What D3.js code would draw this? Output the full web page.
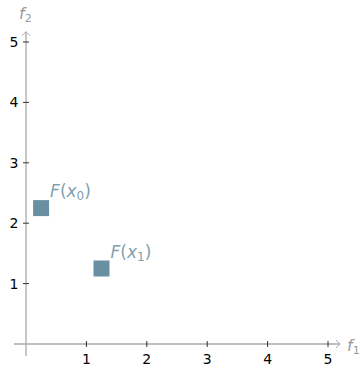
<!DOCTYPE html>
<html>
<head>
<meta charset="utf-8">
<script src="https://cdn.jsdelivr.net/npm/d3@7"></script>
<style>
  body { margin: 0; background: #fff; }
  svg text { font-family: "DejaVu Sans", sans-serif; }
</style>
</head>
<body>
<div id="chart"></div>
<script>
// 数据
const pointNames = ["x0", "x1"];
const f1Values = [0.25, 1.25];
const f2Values = [2.25, 1.25];
const xTicks = [1, 2, 3, 4, 5];
const yTicks = [1, 2, 3, 4, 5];

const width = 361, height = 368;
const svg = d3.select('#chart').append('svg')
    .attr('width', width)
    .attr('height', height);

const x = d3.scaleLinear().domain([0, 5]).range([26, 328]);
const y = d3.scaleLinear().domain([0, 5]).range([344, 42]);

const axisColor = '#aaaaaa';
const labelColor = '#7f9fb0';

// x轴
svg.append('line')
    .attr('x1', x(-0.2)).attr('x2', x(5.2))
    .attr('y1', y(0)).attr('y2', y(0))
    .attr('stroke', axisColor).attr('stroke-width', 1.3);
svg.append('path')
    .attr('d', `M${x(5.2) - 4},${y(0) - 4} L${x(5.2)},${y(0)} L${x(5.2) - 4},${y(0) + 4}`)
    .attr('fill', 'none').attr('stroke', axisColor).attr('stroke-width', 1);

// y轴
svg.append('line')
    .attr('x1', x(0)).attr('x2', x(0))
    .attr('y1', y(-0.2)).attr('y2', y(5.17))
    .attr('stroke', axisColor).attr('stroke-width', 1.3);
svg.append('path')
    .attr('d', `M${x(0) - 4},${y(5.17) + 4} L${x(0)},${y(5.17)} L${x(0) + 4},${y(5.17) + 4}`)
    .attr('fill', 'none').attr('stroke', axisColor).attr('stroke-width', 1);

// 刻度
svg.selectAll('line.xt').data(xTicks).join('line')
    .attr('class', 'xt')
    .attr('x1', d => x(d)).attr('x2', d => x(d))
    .attr('y1', y(0) - 3).attr('y2', y(0) + 3)
    .attr('stroke', '#000').attr('stroke-width', 0.8);
svg.selectAll('text.xt').data(xTicks).join('text')
    .attr('class', 'xt')
    .attr('x', d => x(d)).attr('y', y(0) + 20)
    .attr('text-anchor', 'middle')
    .attr('font-size', '14px')
    .text(d => d);

svg.selectAll('line.yt').data(yTicks).join('line')
    .attr('class', 'yt')
    .attr('x1', x(0) - 3).attr('x2', x(0) + 3)
    .attr('y1', d => y(d)).attr('y2', d => y(d))
    .attr('stroke', '#000').attr('stroke-width', 0.8);
svg.selectAll('text.yt').data(yTicks).join('text')
    .attr('class', 'yt')
    .attr('x', x(0) - 12).attr('y', d => y(d) + 5)
    .attr('text-anchor', 'middle')
    .attr('font-size', '14px')
    .text(d => d);

// 轴标签
const f1 = svg.append('text')
    .attr('x', 347).attr('y', 351)
    .attr('fill', '#999').attr('font-size', '16px').attr('font-style', 'italic');
f1.append('tspan').text('f');
f1.append('tspan').attr('font-size', '11px').attr('dy', 3).attr('font-style', 'normal').text('1');

const f2 = svg.append('text')
    .attr('x', 19).attr('y', 19)
    .attr('fill', '#999').attr('font-size', '16px').attr('font-style', 'italic');
f2.append('tspan').text('f');
f2.append('tspan').attr('font-size', '11px').attr('dy', 3).attr('font-style', 'normal').text('2');

// 点
const pts = pointNames.map((n, i) => ({ name: n, f1: f1Values[i], f2: f2Values[i] }));
const s = 16;
svg.selectAll('rect.pt').data(pts).join('rect')
    .attr('class', 'pt')
    .attr('x', d => x(d.f1) - s / 2)
    .attr('y', d => y(d.f2) - s / 2)
    .attr('width', s).attr('height', s)
    .attr('fill', '#6a8fa3');

const lab = svg.selectAll('text.pl').data(pts).join('text')
    .attr('class', 'pl')
    .attr('x', d => x(d.f1) + 9)
    .attr('y', d => y(d.f2) - 11)
    .attr('fill', labelColor)
    .attr('font-size', '17px');
lab.append('tspan').attr('font-style', 'italic').text('F');
lab.append('tspan').text('(');
lab.append('tspan').attr('font-style', 'italic').text('x');
lab.append('tspan').attr('font-size', '12px').attr('dy', 3).text(d => d.name.slice(1));
lab.append('tspan').attr('dy', -3).text(')');
</script>
</body>
</html>
